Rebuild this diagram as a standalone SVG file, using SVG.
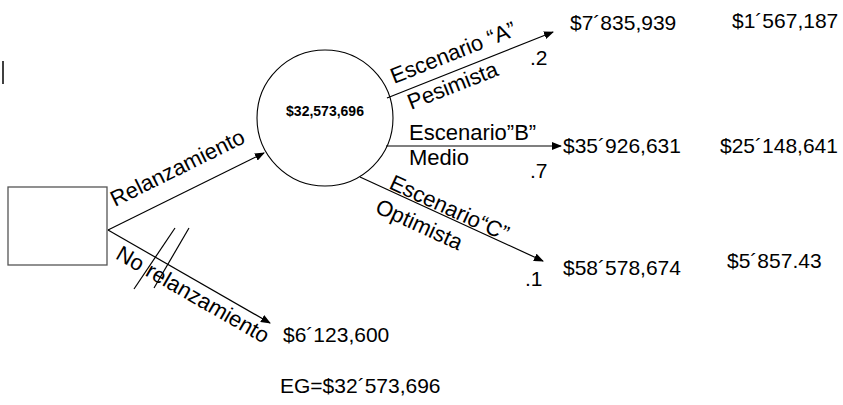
<svg xmlns="http://www.w3.org/2000/svg" width="843" height="405" viewBox="0 0 843 405">
<defs>
<style>
text{font-family:"Liberation Sans",Arial,sans-serif;font-size:21px;fill:#000}
.lb{font-size:22px}
.ln{stroke:#000;stroke-width:1.2;fill:none}
.ar{marker-end:url(#ah)}
.bold{font-weight:bold;font-size:14px}
</style>
<marker id="ah" markerWidth="10" markerHeight="8" refX="9" refY="4" orient="auto" markerUnits="userSpaceOnUse">
<path d="M0,0 L10,4 L0,8 Z" fill="#000"/>
</marker>
</defs>
<rect width="843" height="405" fill="#fff"/>
<line x1="3" y1="61" x2="3" y2="84" stroke="#000" stroke-width="1.5"/>
<g id="decision">
<rect x="8" y="187" width="99" height="78" fill="#fff" stroke="#555" stroke-width="1.3"/>
</g>
<g id="chance">
<circle cx="325" cy="118" r="68" fill="#fff" stroke="#000" stroke-width="1.1"/>
<text class="bold" x="325" y="116" text-anchor="middle">$32,573,696</text>
</g>
<g id="connectors">
<line class="ln ar" x1="108" y1="230" x2="264" y2="153"/>
<line class="ln ar" x1="108" y1="230" x2="270" y2="323"/>
<line class="ln" x1="175" y1="228" x2="134" y2="289"/>
<line class="ln" x1="189" y1="228" x2="154" y2="288"/>
<line class="ln ar" x1="387" y1="98" x2="553" y2="32"/>
<line class="ln ar" x1="386" y1="146" x2="561" y2="146"/>
<line class="ln ar" x1="360" y1="177" x2="543" y2="261"/>
</g>
<g id="labels">
<text class="lb" transform="translate(115,207) rotate(-26.3)">Relanzamiento</text>
<text class="lb" transform="translate(114.5,258) rotate(29.9)">No relanzamiento</text>
<text class="lb" transform="translate(394,84) rotate(-21.6)">Escenario “A”</text>
<text class="lb" transform="translate(411,110) rotate(-21.6)">Pesimista</text>
<text class="lb" x="409" y="140">Escenario”B”</text>
<text class="lb" x="409" y="165">Medio</text>
<text class="lb" transform="translate(388,188) rotate(24.6)">Escenario“C”</text>
<text class="lb" transform="translate(374,212) rotate(24.6)">Optimista</text>
<text x="530" y="65">.2</text>
<text x="530" y="178">.7</text>
<text x="525" y="286">.1</text>
</g>
<g id="outcomes">
<text x="570" y="30">$7´835,939</text>
<text x="732" y="28">$1´567,187</text>
<text x="563" y="153">$35´926,631</text>
<text x="720" y="153">$25´148,641</text>
<text x="563" y="275">$58´578,674</text>
<text x="727" y="268">$5´857.43</text>
<text x="283" y="342">$6´123,600</text>
<text x="280" y="393">EG=$32´573,696</text>
</g>
</svg>
